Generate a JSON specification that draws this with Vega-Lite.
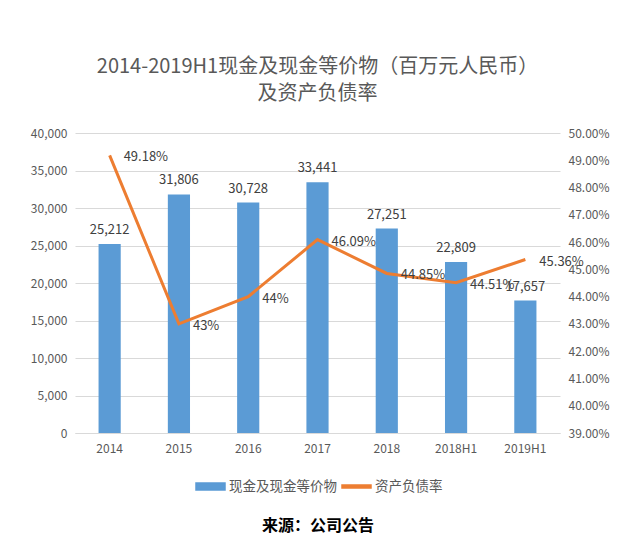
{
  "$schema": "https://vega.github.io/schema/vega-lite/v6.json",
  "width": 485,
  "height": 300,
  "autosize": {"type": "none"},
  "padding": {"left": 75, "top": 133, "right": 80, "bottom": 120},
  "background": "white",
  "config": {"font": "Noto Sans CJK SC", "view": {"stroke": null}},
  "title": {
    "text": ["2014-2019H1现金及现金等价物（百万元人民币）", "及资产负债率"],
    "fontSize": 20,
    "fontWeight": "normal",
    "color": "#595959",
    "lineHeight": 27,
    "offset": 23,
    "anchor": "middle"
  },
  "data": {
    "values": [
      {"period": "2014", "cash": 25212, "ratio": 0.4918, "label": "49.18%"},
      {"period": "2015", "cash": 31806, "ratio": 0.43, "label": "43%"},
      {"period": "2016", "cash": 30728, "ratio": 0.44, "label": "44%"},
      {"period": "2017", "cash": 33441, "ratio": 0.4609, "label": "46.09%"},
      {"period": "2018", "cash": 27251, "ratio": 0.4485, "label": "44.85%"},
      {"period": "2018H1", "cash": 22809, "ratio": 0.4451, "label": "44.51%"},
      {"period": "2019H1", "cash": 17657, "ratio": 0.4536, "label": "45.36%"}
    ]
  },
  "encoding": {
    "x": {
      "field": "period",
      "type": "ordinal",
      "sort": null,
      "scale": {"paddingInner": 0.68, "paddingOuter": 0.34},
      "axis": {
        "title": "来源：公司公告",
        "titleFontSize": 16,
        "titleFontWeight": "bold",
        "titleColor": "#000000",
        "titlePadding": 63,
        "labelAngle": 0,
        "ticks": false,
        "domainColor": "#D9D9D9",
        "labelColor": "#595959",
        "labelFontSize": 12,
        "labelPadding": 10
      }
    }
  },
  "layer": [
    {
      "layer": [
        {
          "mark": {"type": "bar"},
          "encoding": {
            "y": {
              "field": "cash",
              "type": "quantitative",
              "scale": {"domain": [0, 40000]},
              "axis": {
                "title": null,
                "tickCount": 8,
                "format": ",.0f",
                "domain": false,
                "ticks": false,
                "labelColor": "#595959",
                "labelFontSize": 12,
                "labelPadding": 8,
                "gridColor": "#D9D9D9",
                "grid": true
              }
            },
            "color": {
              "datum": "现金及现金等价物",
              "type": "nominal",
              "scale": {"domain": ["现金及现金等价物", "资产负债率"], "range": ["#5B9BD5", "#ED7D31"]},
              "legend": {
                "title": null,
                "orient": "none",
                "direction": "horizontal",
                "legendX": 120,
                "legendY": 338,
                "labelFontSize": 13.5,
                "labelColor": "#595959",
                "symbolSize": 841,
                "columnPadding": 2,
                "labelOffset": 3,
                "encode": {
                  "symbols": {
                    "update": {
                      "shape": {"signal": "datum.value === '资产负债率' ? 'M-1,-0.1H1V0.1H-1Z' : 'M-1,-0.24H1V0.24H-1Z'"},
                      "fill": {"signal": "datum.value === '资产负债率' ? '#ED7D31' : '#5B9BD5'"},
                      "stroke": {"value": "transparent"},
                      "fillOpacity": {"value": 1}
                    }
                  }
                }
              }
            }
          }
        },
        {
          "mark": {"type": "text", "baseline": "bottom", "dy": -7, "fontSize": 13, "color": "#404040"},
          "encoding": {
            "y": {"field": "cash", "type": "quantitative"},
            "text": {"field": "cash", "type": "quantitative", "format": ",.0f"}
          }
        }
      ]
    },
    {
      "layer": [
        {
          "mark": {"type": "line", "strokeWidth": 3},
          "encoding": {
            "y": {
              "field": "ratio",
              "type": "quantitative",
              "scale": {"domain": [0.39, 0.5]},
              "axis": {
                "orient": "right",
                "title": null,
                "format": ".2%",
                "tickCount": 11,
                "grid": false,
                "domain": false,
                "ticks": false,
                "labelColor": "#595959",
                "labelFontSize": 12,
                "labelPadding": 8
              }
            },
            "color": {"datum": "资产负债率", "type": "nominal"}
          }
        },
        {
          "mark": {"type": "text", "align": "left", "dx": 14, "dy": 2, "fontSize": 13, "color": "#404040"},
          "encoding": {
            "y": {"field": "ratio", "type": "quantitative"},
            "text": {"field": "label", "type": "nominal"}
          }
        }
      ]
    }
  ],
  "resolve": {"scale": {"y": "independent"}}
}
